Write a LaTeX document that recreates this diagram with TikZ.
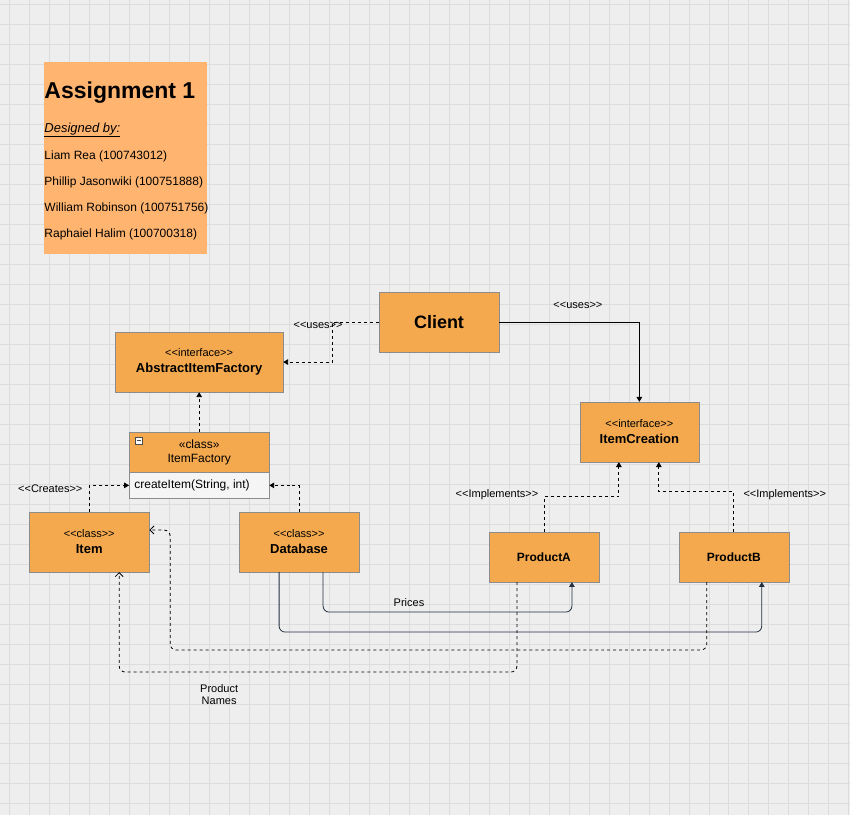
\documentclass[tikz,border=0pt]{standalone}
\usepackage{fontspec}
\setmainfont{Liberation Sans}
\usetikzlibrary{arrows.meta}
\definecolor{box colour}{HTML}{F4A94F}
\definecolor{note colour}{HTML}{FFB570}
\definecolor{grid colour}{HTML}{DCDCDC}
\definecolor{paper colour}{HTML}{EEEEEE}
\definecolor{wire colour}{HTML}{23303F}
\newcommand{\stereotype}[1]{{\fontsize{11}{12}\selectfont\mdseries <{}<#1>{}>}}
\tikzset{
    >=Triangle,
    % class boxes
    class box/.style={draw=black!45, fill=box colour, align=center,
        minimum width=#1, inner sep=0, font=\fontsize{13}{15}\selectfont},
    class box/.default=120pt,
    dep/.style={dashed, thick, ->},
    wire/.style={color=wire colour, thick, rounded corners=6pt, ->},
    label/.style={font=\fontsize{11}{12}\selectfont, inner sep=1pt},
}
\begin{document}
\begin{tikzpicture}[x=1pt, y=-1pt]

% paper and grid
\fill [paper colour] (0,0) rectangle (850,815);
\foreach \g in {0,20,...,840}
    \draw [grid colour, line width=0.6pt] (\g+9,0) -- (\g+9,815);
\foreach \g in {0,20,...,800}
    \draw [grid colour, line width=0.6pt] (0,\g+4) -- (850,\g+4);
\useasboundingbox (0,0) rectangle (850,815);

% title note
\node [fill=note colour, minimum width=163pt, minimum height=192pt,
    anchor=north west, inner sep=0] (note) at (44,62) {};
\node [anchor=west, inner sep=0, font=\bfseries\fontsize{23}{26}\selectfont]
    (title) at (44,92) {Assignment 1};
\node [anchor=west, inner sep=0, font=\itshape\fontsize{13}{15}\selectfont]
    (designed) at (44,130) {\underline{Designed by:}};
\node [anchor=west, inner sep=0, font=\fontsize{12}{14}\selectfont]
    (liam) at (44,156) {Liam Rea (100743012)};
\node [anchor=west, inner sep=0, font=\fontsize{12}{14}\selectfont]
    (phillip) at (44,182) {Phillip Jasonwiki (100751888)};
\node [anchor=west, inner sep=0, font=\fontsize{12}{14}\selectfont]
    (william) at (44,208) {William Robinson (100751756)};
\node [anchor=west, inner sep=0, font=\fontsize{12}{14}\selectfont]
    (raphaiel) at (44,234) {Raphaiel Halim (100700318)};

% classes
\node [class box, minimum height=60pt,
    font=\bfseries\fontsize{18}{20}\selectfont] (client) at (439,322) {Client};
\node [class box=168pt, minimum height=60pt] (abstract) at (199,362)
    {\stereotype{interface}\\[1pt]\textbf{AbstractItemFactory}};
\node [class box=119pt, minimum height=60pt] (creation) at (639.5,432)
    {\stereotype{interface}\\[1pt]\textbf{ItemCreation}};
\node [class box=140pt, minimum height=40pt, font=\fontsize{12}{14}\selectfont]
    (factory) at (199,452) {«class»\\ItemFactory};
\node [draw=black!45, fill=paper colour!60!white, minimum width=140pt,
    minimum height=26pt, anchor=north, inner sep=0] (factory body)
    at (factory.south) {};
\node [anchor=west, font=\fontsize{12}{14}\selectfont, inner sep=0]
    (create item) at (134,485) {createItem(String, int)};
\node [draw=black!70, fill=white, minimum size=7pt, inner sep=0]
    (collapse) at (138.5,440.5) {};
\draw [black!70] (collapse.west) ++(1.5pt,0) -- ++(4pt,0);
\node [class box, minimum height=60pt] (item) at (89,542)
    {\stereotype{class}\\[1pt]\textbf{Item}};
\node [class box, minimum height=60pt] (database) at (299,542)
    {\stereotype{class}\\[1pt]\textbf{Database}};
\node [class box=110pt, minimum height=50pt,
    font=\bfseries\fontsize{12}{14}\selectfont] (product a)
    at (544,557) {ProductA};
\node [class box=110pt, minimum height=50pt,
    font=\bfseries\fontsize{12}{14}\selectfont] (product b)
    at (734,557) {ProductB};

% dependencies
\draw [dep] (client.west) -- ++(-46,0) |- (abstract.east);
\draw [thick, ->] (client.east) -| (creation.north);
\draw [dep] (factory.north) -- (abstract.south);
\draw [dep] (item.north) |- (factory body.west);
\draw [dep] (database.north) |- (factory body.east);
\draw [dep] (product a.north) -- ++(0,-35) -| ([xshift=-20.5pt]creation.south);
\draw [dep] (product b.north) -- ++(0,-40) -| ([xshift=19.5pt]creation.south);

\node [label] (uses left) at (318,325) {<{}<uses>{}>};
\node [label] (uses right) at (578,305) {<{}<uses>{}>};
\node [label] (creates) at (50,489) {<{}<Creates>{}>};
\node [label] (implements a) at (497,495) {<{}<Implements>{}>};
\node [label] (implements b) at (785,495) {<{}<Implements>{}>};

% data flow
\draw [wire] ([xshift=24pt]database.south) -- ++(0,40)
    -| ([xshift=28pt]product a.south);
\draw [wire] ([xshift=-20pt]database.south) -- ++(0,60)
    -| ([xshift=28pt]product b.south);
\draw [dashed, thick, rounded corners=6pt, -{Straight Barb[length=4pt]}]
    ([xshift=-27pt]product b.south) -- ++(0,68) -| ++(-537,-120)
    -- ([yshift=12pt]item.east);
\draw [dashed, thick, rounded corners=6pt, -{Straight Barb[length=4pt]}]
    ([xshift=-27pt]product a.south) -- ++(0,90) -| ([xshift=30pt]item.south);
\node [label] (prices) at (409,603) {Prices};
\node [label, align=center] (names) at (219,695) {Product\\Names};

\end{tikzpicture}
\end{document}
